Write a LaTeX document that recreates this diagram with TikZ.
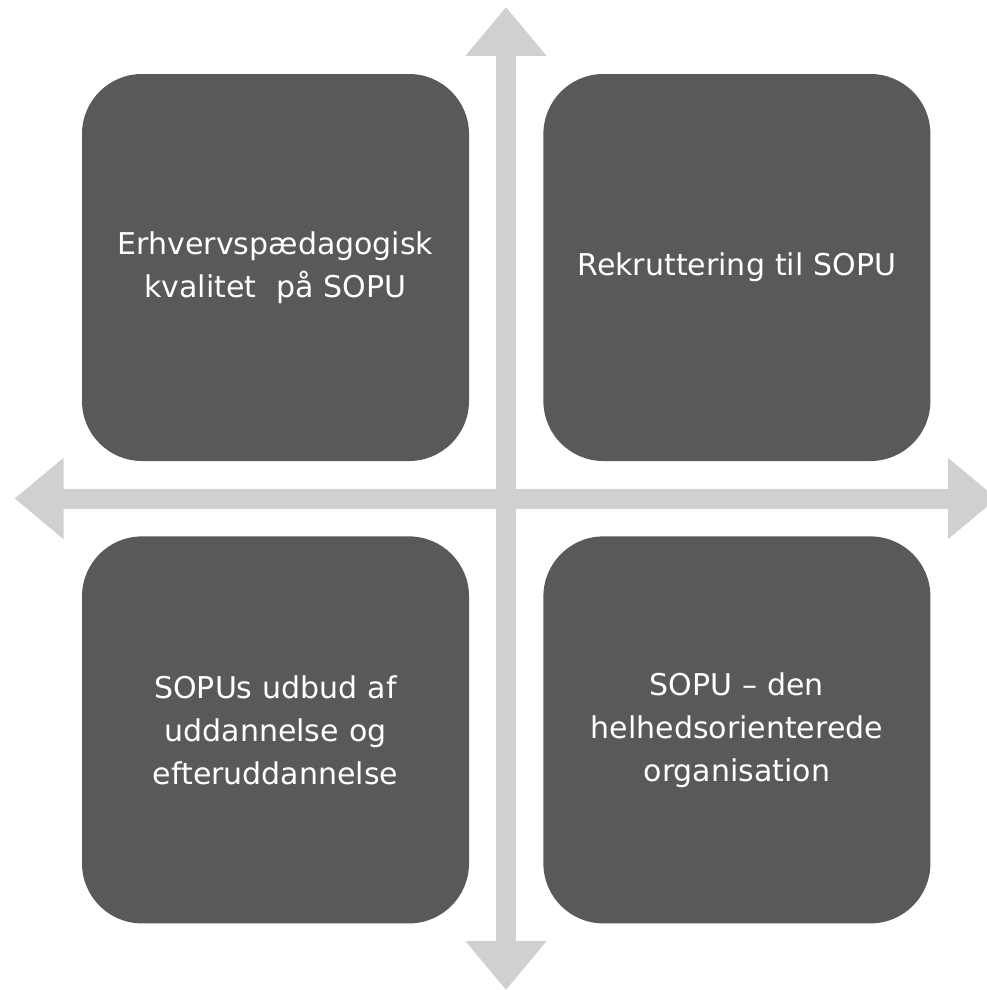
\documentclass[tikz,border=0pt]{standalone}
\usepackage{fontspec}
\setmainfont{DejaVu Sans}
\usepackage{tikz}
\usetikzlibrary{arrows.meta, positioning}
\definecolor{boxgray}{HTML}{59595B}
\definecolor{axisgray}{HTML}{D0D0D0}
\tikzstyle{field} = [rectangle, rounded corners=60pt, minimum width=387pt, minimum height=387pt, fill=boxgray, text=white, text width=370pt, align=center, font=\fontsize{30}{43}\selectfont]
\tikzstyle{axis} = [line width=20pt, draw=axisgray, {Triangle[width=78pt, length=49pt]}-{Triangle[width=78pt, length=49pt]}]

\begin{document}
\begin{tikzpicture}[x=1pt, y=-1pt, node distance=75pt and 74pt]
	\useasboundingbox (0,0) rectangle (986,990);
	\node (quality) [field] at (275.5,267.5) {Erhvervspædagogisk\\kvalitet~~på SOPU};
	\node (recruit) [field, right=of quality] {Rekruttering til SOPU};
	\node (courses) [field, below=of quality] {SOPUs udbud af\\uddannelse og\\efteruddannelse};
	\node (organisation) [field, below=of recruit] {SOPU – den\\helhedsorienterede\\organisation};

	\coordinate (west) at (14.5,498.5);
	\coordinate (east) at (997,498.5);
	\coordinate (north) at (506,7);
	\coordinate (south) at (506,990);

	\draw [axis] (west) -- (east);
	\draw [axis] (south) -- (north);
\end{tikzpicture}
\end{document}
